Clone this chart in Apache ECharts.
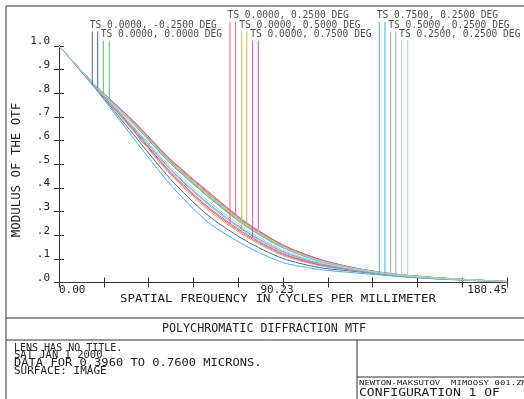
<!DOCTYPE html>
<html>
<head>
<meta charset="utf-8">
<script src="https://cdn.jsdelivr.net/npm/echarts@6/dist/echarts.min.js"></script>
<style>
html,body{margin:0;padding:0;background:#fff;}
#mtfchart{width:524px;height:399px;}
</style>
</head>
<body>
<div id="mtfchart"></div>
<script>
// spatial frequency samples (cycles/mm)
var freqs = [0, 15, 30, 45, 60, 75, 90, 105, 120, 135, 150, 165, 180.45];

var fieldNames = [
    'TS 0.0000, -0.2500 DEG', 'TS 0.0000, 0.0000 DEG', 'TS 0.0000, 0.2500 DEG', 'TS 0.0000, 0.5000 DEG',
    'TS 0.0000, 0.7500 DEG', 'TS 0.7500, 0.2500 DEG', 'TS 0.5000, 0.2500 DEG', 'TS 0.2500, 0.2500 DEG'
];
var fieldColors = ['#4a5cb4', '#5cc05c', '#f0606e', '#c4bc48', '#d24cc4', '#3cb4e6', '#a4a4d8', '#a6dca6'];

// tangential MTF per field
var mtfT = [
    [1, .818, .626, .436, .284, .178, .102, .063, .046, .029, .017, .010, .003],
    [1, .828, .673, .505, .367, .243, .150, .092, .057, .035, .021, .012, .004],
    [1, .822, .643, .461, .314, .201, .119, .073, .050, .031, .019, .010, .003],
    [1, .821, .639, .455, .307, .196, .115, .071, .049, .031, .018, .010, .003],
    [1, .823, .647, .466, .320, .207, .123, .076, .051, .032, .019, .011, .004],
    [1, .815, .610, .412, .255, .156, .085, .055, .040, .027, .016, .009, .003],
    [1, .824, .652, .475, .330, .215, .129, .079, .052, .032, .019, .011, .004],
    [1, .826, .661, .488, .346, .227, .138, .085, .055, .033, .020, .011, .004]
];
// sagittal MTF per field
var mtfS = [
    [1, .828, .672, .504, .366, .242, .149, .091, .057, .035, .021, .012, .004],
    [1, .829, .676, .510, .373, .248, .153, .094, .058, .035, .021, .012, .004],
    [1, .830, .681, .517, .381, .254, .158, .097, .059, .036, .022, .012, .004],
    [1, .829, .679, .514, .377, .251, .156, .095, .059, .035, .022, .012, .004],
    [1, .830, .683, .520, .385, .257, .160, .098, .060, .036, .022, .012, .004],
    [1, .824, .655, .479, .336, .219, .132, .081, .053, .033, .020, .011, .004],
    [1, .827, .670, .501, .362, .239, .147, .090, .057, .034, .021, .011, .004],
    [1, .828, .674, .507, .369, .245, .151, .093, .058, .035, .021, .012, .004]
];

// legend marker lines: where they stand and where they meet the curve
var markFreqT = [13.41, 17.84, 68.88, 73.59, 78.02, 129.0, 133.6, 138.0];
var markFreqS = [15.59, 20.26, 71.17, 75.60, 80.28, 131.3, 135.7, 140.45];
var markEndT = [.837, .799, .247, .206, .189, .033, .034, .030];
var markEndS = [.822, .775, .286, .247, .223, .038, .033, .030];
var labelRow = [1, 2, 0, 1, 2, 0, 1, 2];
var rowTop = [1.103, 1.061, 1.023];

var xTickLabels = ['0.00', '', '', '', '', '90.23', '', '', '', '', '180.45'];
var yTickLabels = ['.0', '.1', '.2', '.3', '.4', '.5', '.6', '.7', '.8', '.9', '1.0'];

var infoLines = ['LENS HAS NO TITLE.', 'SAT JAN 1 2000', 'DATA FOR 0.3960 TO 0.7600 MICRONS.', 'SURFACE: IMAGE'];

var mono = 'DejaVu Sans Mono';
var ink = '#222';
var frame = '#333';

function buildSeries() {
    var out = [];
    for (var i = 0; i < fieldNames.length; i++) {
        var t = [], s = [];
        for (var k = 0; k < freqs.length; k++) {
            t.push([freqs[k], mtfT[i][k]]);
            s.push([freqs[k], mtfS[i][k]]);
        }
        out.push({type: 'line', data: t, smooth: 0.25, symbol: 'none', lineStyle: {width: 1, color: fieldColors[i]}});
        out.push({type: 'line', data: s, smooth: 0.25, symbol: 'none', lineStyle: {width: 1, color: fieldColors[i]}});
    }
    // vertical legend lines dropping onto the curves
    for (var n = 0; n < fieldNames.length; n++) {
        var top = rowTop[labelRow[n]];
        out.push({type: 'line', data: [[markFreqT[n], top], [markFreqT[n], markEndT[n]]], symbol: 'none', clip: false,
            lineStyle: {width: 1, color: fieldColors[n]}});
        out.push({type: 'line', data: [[markFreqS[n], top], [markFreqS[n], markEndS[n]]], symbol: 'none', clip: false,
            lineStyle: {width: 1, color: fieldColors[n]}});
    }
    var labelData = [];
    for (var j = 0; j < fieldNames.length; j++) {
        labelData.push([markFreqT[j], rowTop[labelRow[j]]]);
    }
    out.push({
        type: 'scatter', data: labelData, symbolSize: 0, clip: false,
        label: {
            show: true, position: 'top', distance: 1, align: 'left', offset: [-2.5, 0],
            fontFamily: mono, fontSize: 9.6, color: ink,
            formatter: function (p) { return fieldNames[p.dataIndex]; }
        }
    });
    return out;
}

function buildGraphics(scaled) {
    var infoSizes = scaled ? [10, 10.5, 12.1, 11] : [10.5, 10.5, 10.5, 10.5];
    var infoScale = scaled ? [1, 1, 0.85, 0.93] : [1, 1, 1, 1];
    var g = [
        {type: 'rect', shape: {x: 6, y: 6, width: 540, height: 420}, style: {fill: 'none', stroke: frame, lineWidth: 1}},
        {type: 'line', shape: {x1: 6, y1: 318, x2: 540, y2: 318}, style: {stroke: frame, lineWidth: 1}},
        {type: 'line', shape: {x1: 6, y1: 340, x2: 540, y2: 340}, style: {stroke: frame, lineWidth: 1}},
        {type: 'line', shape: {x1: 357, y1: 340, x2: 357, y2: 420}, style: {stroke: frame, lineWidth: 1}},
        {type: 'line', shape: {x1: 357, y1: 377, x2: 540, y2: 377}, style: {stroke: frame, lineWidth: 1}},
        {type: 'text', x: 278, y: 299, scaleY: 0.8,
            style: {text: 'SPATIAL FREQUENCY IN CYCLES PER MILLIMETER', font: '12.5px ' + mono, fill: ink, align: 'center', verticalAlign: 'middle'}},
        {type: 'text', x: 17, y: 170, rotation: Math.PI / 2,
            style: {text: 'MODULUS OF THE OTF', font: '12.4px ' + mono, fill: ink, align: 'center', verticalAlign: 'middle'}},
        {type: 'text', x: 264, y: 329,
            style: {text: 'POLYCHROMATIC DIFFRACTION MTF', font: '11.7px ' + mono, fill: ink, align: 'center', verticalAlign: 'middle'}},
        {type: 'text', x: 359, y: 383, scaleY: 0.75,
            style: {text: 'NEWTON-MAKSUTOV  MIMOOSY 001.ZMX', font: '9px ' + mono, fill: ink, align: 'left', verticalAlign: 'middle'}},
        {type: 'text', x: 359, y: 393, scaleY: 0.78,
            style: {text: 'CONFIGURATION 1 OF', font: '13px ' + mono, fill: ink, align: 'left', verticalAlign: 'middle'}}
    ];
    for (var m = 0; m < infoLines.length; m++) {
        g.push({type: 'text', x: 14, y: 348 + m * 7.7, scaleY: infoScale[m],
            style: {text: infoLines[m], font: infoSizes[m] + 'px ' + mono, fill: ink, align: 'left', verticalAlign: 'middle'}});
    }
    return g;
}

function buildOption(v) {
    var yLabel = {show: true, margin: 9, fontFamily: mono, fontSize: 11, color: ink,
        formatter: function (val) { return yTickLabels[Math.round(val * 10)]; }};
    if (v.yRich) {
        yLabel.formatter = function (val) { return '{a|' + yTickLabels[Math.round(val * 10)] + '}'; };
        yLabel.rich = {a: {fontFamily: mono, fontSize: 11, color: ink, padding: [0, 0, 9, 0]}};
    } else {
        yLabel.padding = [0, 0, 8, 0];
    }
    return {
        animation: false,
        grid: {left: 59, right: 17, top: 46, bottom: 116.5, outerBoundsMode: 'none'},
        xAxis: [
            {
                type: 'value', min: 0, max: 180.45, interval: 18.045, position: 'bottom',
                splitLine: {show: false},
                axisLine: {lineStyle: {color: frame}},
                axisTick: {inside: true, length: 5},
                axisLabel: {
                    show: true, margin: 2, fontFamily: mono, fontSize: 11, color: ink,
                    showMinLabel: true, showMaxLabel: true, alignMinLabel: 'left', alignMaxLabel: 'right',
                    formatter: function (val) {
                        var lab = xTickLabels[Math.round(val / 18.045)] || '';
                        return lab === '90.23' ? '{m|' + lab + '}' : lab;
                    },
                    rich: {m: {fontFamily: mono, fontSize: 11, color: ink, padding: [0, 12, 0, 0]}}
                }
            },
            {
                type: 'value', min: 0, max: 180.45, interval: 18.045, position: 'top',
                splitLine: {show: false},
                axisLine: {lineStyle: {color: frame}},
                axisTick: {inside: true, length: 5},
                axisLabel: {show: false}
            }
        ],
        yAxis: [
            {
                type: 'value', min: 0, max: 1, interval: 0.1, position: 'left',
                splitLine: {show: false},
                axisLine: {show: true, lineStyle: {color: frame}},
                axisTick: {show: true, inside: true, length: 5},
                axisLabel: yLabel
            },
            {
                type: 'value', min: 0, max: 1, interval: 0.1, position: 'right',
                splitLine: {show: false},
                axisLine: {show: true, lineStyle: {color: frame}},
                axisTick: {show: true, inside: true, length: 5},
                axisLabel: {show: false}
            }
        ],
        graphic: buildGraphics(v.scaled),
        series: buildSeries()
    };
}

// draw synchronously so a failing variant can be dropped for a plainer one
var variants = [{yRich: true, scaled: true}, {yRich: false, scaled: true}, {yRich: true, scaled: false}, {yRich: false, scaled: false}];
var dom = document.getElementById('mtfchart');
for (var vi = 0; vi < variants.length; vi++) {
    var chart = echarts.init(dom);
    try {
        chart.setOption(buildOption(variants[vi]));
        chart.getZr().refreshImmediately();
        break;
    } catch (e) {
        chart.dispose();
    }
}
</script>
</body>
</html>
